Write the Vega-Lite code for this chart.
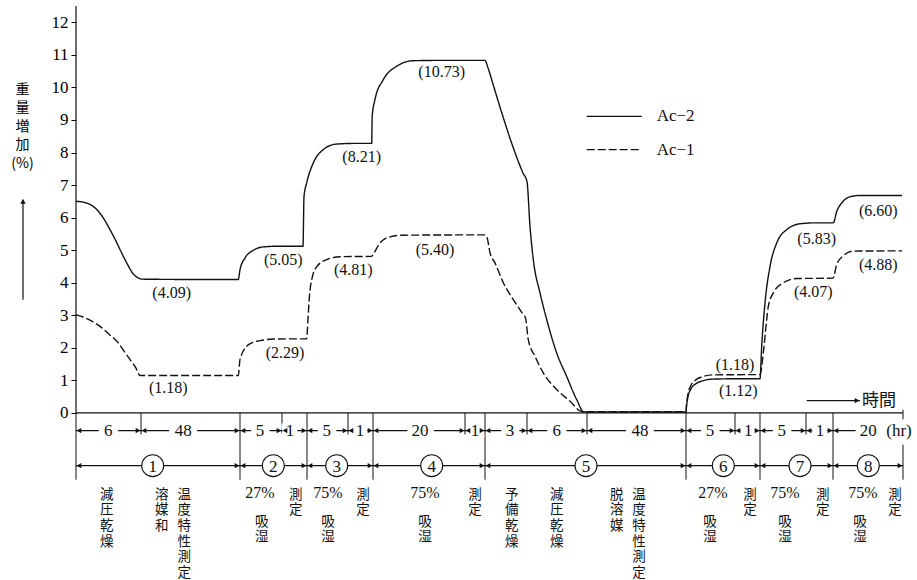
{
  "$schema": "https://vega.github.io/schema/vega-lite/v6.json",
  "width": 827,
  "height": 573,
  "autosize": {"type": "none"},
  "padding": {"left": 76, "top": 6, "right": 14, "bottom": 1},
  "background": "white",
  "config": {"view": {"stroke": null}},
  "datasets": {
    "curves": [
      {"s":"Ac-2","x":0,"y":6.5},{"s":"Ac-2","x":8,"y":6.47},{"s":"Ac-2","x":17,"y":6.35},{"s":"Ac-2","x":26,"y":6.05},{"s":"Ac-2","x":34,"y":5.63},{"s":"Ac-2","x":40,"y":5.28},{"s":"Ac-2","x":44,"y":5.02},{"s":"Ac-2","x":50.7,"y":4.61},{"s":"Ac-2","x":57.3,"y":4.27},{"s":"Ac-2","x":62,"y":4.15},{"s":"Ac-2","x":66,"y":4.11},{"s":"Ac-2","x":120,"y":4.1},{"s":"Ac-2","x":162.3,"y":4.1},
      {"s":"Ac-2","x":164,"y":4.4},{"s":"Ac-2","x":169,"y":4.76},{"s":"Ac-2","x":177,"y":4.99},{"s":"Ac-2","x":187,"y":5.1},{"s":"Ac-2","x":200,"y":5.12},{"s":"Ac-2","x":227,"y":5.12},
      {"s":"Ac-2","x":228,"y":6.65},{"s":"Ac-2","x":230.7,"y":7.07},{"s":"Ac-2","x":237.3,"y":7.68},{"s":"Ac-2","x":247.3,"y":8.09},{"s":"Ac-2","x":260.7,"y":8.26},{"s":"Ac-2","x":280,"y":8.28},{"s":"Ac-2","x":295.7,"y":8.28},
      {"s":"Ac-2","x":296.2,"y":9.11},{"s":"Ac-2","x":299,"y":9.63},{"s":"Ac-2","x":307.3,"y":10.24},{"s":"Ac-2","x":320.7,"y":10.65},{"s":"Ac-2","x":337.3,"y":10.82},{"s":"Ac-2","x":370,"y":10.83},{"s":"Ac-2","x":409,"y":10.83},
      {"s":"Ac-2","x":412,"y":10.6},{"s":"Ac-2","x":417,"y":10.1},{"s":"Ac-2","x":427,"y":9.1},{"s":"Ac-2","x":437,"y":8.17},{"s":"Ac-2","x":447,"y":7.37},{"s":"Ac-2","x":451,"y":7.1},{"s":"Ac-2","x":454,"y":5.73},{"s":"Ac-2","x":457.3,"y":4.71},{"s":"Ac-2","x":464,"y":3.69},{"s":"Ac-2","x":470.7,"y":2.87},{"s":"Ac-2","x":480.7,"y":1.84},{"s":"Ac-2","x":490.7,"y":1.12},{"s":"Ac-2","x":500.7,"y":0.41},{"s":"Ac-2","x":508,"y":0.03},{"s":"Ac-2","x":560,"y":0.03},{"s":"Ac-2","x":610,"y":0.03},
      {"s":"Ac-2","x":610.5,"y":0.2},{"s":"Ac-2","x":612,"y":0.5},{"s":"Ac-2","x":615,"y":0.74},{"s":"Ac-2","x":620,"y":0.9},{"s":"Ac-2","x":627,"y":0.99},{"s":"Ac-2","x":637,"y":1.04},{"s":"Ac-2","x":660,"y":1.05},{"s":"Ac-2","x":684,"y":1.05},
      {"s":"Ac-2","x":685.7,"y":2.05},{"s":"Ac-2","x":689,"y":3.38},{"s":"Ac-2","x":694,"y":4.5},{"s":"Ac-2","x":700.7,"y":5.22},{"s":"Ac-2","x":710.7,"y":5.63},{"s":"Ac-2","x":724,"y":5.81},{"s":"Ac-2","x":740,"y":5.84},{"s":"Ac-2","x":757.3,"y":5.84},
      {"s":"Ac-2","x":760.7,"y":6.19},{"s":"Ac-2","x":765.7,"y":6.45},{"s":"Ac-2","x":774,"y":6.64},{"s":"Ac-2","x":784,"y":6.68},{"s":"Ac-2","x":826,"y":6.68},
      {"s":"Ac-1","x":0,"y":3.02},{"s":"Ac-1","x":12,"y":2.88},{"s":"Ac-1","x":24,"y":2.66},{"s":"Ac-1","x":33,"y":2.42},{"s":"Ac-1","x":42.3,"y":2.15},{"s":"Ac-1","x":48,"y":1.9},{"s":"Ac-1","x":54,"y":1.64},{"s":"Ac-1","x":60,"y":1.38},{"s":"Ac-1","x":64,"y":1.15},{"s":"Ac-1","x":120,"y":1.15},{"s":"Ac-1","x":162.3,"y":1.15},
      {"s":"Ac-1","x":164,"y":1.64},{"s":"Ac-1","x":170.7,"y":2.05},{"s":"Ac-1","x":177,"y":2.17},{"s":"Ac-1","x":184,"y":2.22},{"s":"Ac-1","x":197.3,"y":2.27},{"s":"Ac-1","x":230.7,"y":2.28},
      {"s":"Ac-1","x":232,"y":2.9},{"s":"Ac-1","x":233.5,"y":3.6},{"s":"Ac-1","x":236.5,"y":4.2},{"s":"Ac-1","x":241,"y":4.5},{"s":"Ac-1","x":250.7,"y":4.71},{"s":"Ac-1","x":264,"y":4.8},{"s":"Ac-1","x":295.7,"y":4.81},
      {"s":"Ac-1","x":297.3,"y":4.88},{"s":"Ac-1","x":304,"y":5.22},{"s":"Ac-1","x":314,"y":5.41},{"s":"Ac-1","x":327.3,"y":5.46},{"s":"Ac-1","x":409,"y":5.47},
      {"s":"Ac-1","x":411,"y":5.4},{"s":"Ac-1","x":414,"y":4.92},{"s":"Ac-1","x":419,"y":4.61},{"s":"Ac-1","x":427.3,"y":4.0},{"s":"Ac-1","x":437.3,"y":3.48},{"s":"Ac-1","x":447.3,"y":3.02},{"s":"Ac-1","x":449.5,"y":2.92},{"s":"Ac-1","x":452.3,"y":2.25},{"s":"Ac-1","x":459,"y":1.74},{"s":"Ac-1","x":467.3,"y":1.23},{"s":"Ac-1","x":480.7,"y":0.72},{"s":"Ac-1","x":494,"y":0.36},{"s":"Ac-1","x":506,"y":0.04},{"s":"Ac-1","x":560,"y":0.04},{"s":"Ac-1","x":610,"y":0.04},
      {"s":"Ac-1","x":610.5,"y":0.25},{"s":"Ac-1","x":612,"y":0.58},{"s":"Ac-1","x":615,"y":0.85},{"s":"Ac-1","x":620,"y":1.02},{"s":"Ac-1","x":627,"y":1.12},{"s":"Ac-1","x":637,"y":1.17},{"s":"Ac-1","x":684,"y":1.18},
      {"s":"Ac-1","x":687.3,"y":1.84},{"s":"Ac-1","x":690.7,"y":2.87},{"s":"Ac-1","x":692.3,"y":3.27},{"s":"Ac-1","x":697.3,"y":3.69},{"s":"Ac-1","x":707.3,"y":4.0},{"s":"Ac-1","x":720.7,"y":4.13},{"s":"Ac-1","x":757,"y":4.14},
      {"s":"Ac-1","x":760.7,"y":4.56},{"s":"Ac-1","x":767.3,"y":4.83},{"s":"Ac-1","x":777.3,"y":4.97},{"s":"Ac-1","x":826,"y":4.98}
    ],
    "values": [
      {"x":95.7,"y":3.69,"label":"(4.09)"},
      {"x":92.3,"y":0.77,"label":"(1.18)"},
      {"x":207.3,"y":4.71,"label":"(5.05)"},
      {"x":209,"y":1.84,"label":"(2.29)"},
      {"x":277.3,"y":4.38,"label":"(4.81)"},
      {"x":359,"y":5.02,"label":"(5.40)"},
      {"x":285.7,"y":7.86,"label":"(8.21)"},
      {"x":365.7,"y":10.46,"label":"(10.73)"},
      {"x":659,"y":1.48,"label":"(1.18)"},
      {"x":662.3,"y":0.66,"label":"(1.12)"},
      {"x":737.3,"y":3.71,"label":"(4.07)"},
      {"x":740.7,"y":5.35,"label":"(5.83)"},
      {"x":802.3,"y":6.19,"label":"(6.60)"},
      {"x":802.3,"y":4.56,"label":"(4.88)"}
    ],
    "legendLines": [
      {"s":"Ac-2","x":510.7,"x2":565.7,"y":9.11,"label":"Ac−2"},
      {"s":"Ac-1","x":510.7,"x2":565.7,"y":8.09,"label":"Ac−1"}
    ],
    "longBounds": [
      {"x":0,"y":0,"y2":-2.05},{"x":164,"y":0,"y2":-2.05},{"x":231,"y":0,"y2":-2.05},{"x":297,"y":0,"y2":-2.05},{"x":409,"y":0,"y2":-2.05},{"x":610,"y":0,"y2":-2.05},{"x":684,"y":0,"y2":-2.05},{"x":757,"y":0,"y2":-2.05},{"x":827,"y":0.1,"y2":-2.05}
    ],
    "shortBounds": [
      {"x":65,"y":0,"y2":-0.66},{"x":206,"y":0,"y2":-0.66},{"x":272,"y":0,"y2":-0.66},{"x":389,"y":0,"y2":-0.66},{"x":451,"y":0,"y2":-0.66},{"x":511,"y":0,"y2":-0.66},{"x":659,"y":0,"y2":-0.66},{"x":730,"y":0,"y2":-0.66}
    ],
    "rows": [
      {"x":0,"x2":827,"y":0},
      {"x":0,"x2":827,"y":-0.54},
      {"x":0,"x2":827,"y":-1.62},
      {"x":730.7,"x2":784,"y":0.38},
      {"x":-53,"x2":-53,"y":3.48,"y2":6.55},
      {"x":0,"x2":0,"y":0,"y2":12.5}
    ],
    "hours": [
      {"x":32.3,"y":-0.54,"label":"6"},
      {"x":107.3,"y":-0.54,"label":"48"},
      {"x":184,"y":-0.54,"label":"5"},
      {"x":214,"y":-0.54,"label":"1"},
      {"x":250.7,"y":-0.54,"label":"5"},
      {"x":284,"y":-0.54,"label":"1"},
      {"x":344,"y":-0.54,"label":"20"},
      {"x":399,"y":-0.54,"label":"1"},
      {"x":434,"y":-0.54,"label":"3"},
      {"x":480.7,"y":-0.54,"label":"6"},
      {"x":564,"y":-0.54,"label":"48"},
      {"x":634,"y":-0.54,"label":"5"},
      {"x":672.3,"y":-0.54,"label":"1"},
      {"x":705.7,"y":-0.54,"label":"5"},
      {"x":744,"y":-0.54,"label":"1"},
      {"x":792.3,"y":-0.54,"label":"20"},
      {"x":823,"y":-0.54,"label":"(hr)"}
    ],
    "heads": [
      {"x":0,"y":-0.54,"d":"L"},{"x":65,"y":-0.54,"d":"L"},{"x":164,"y":-0.54,"d":"L"},{"x":206,"y":-0.54,"d":"L"},{"x":231,"y":-0.54,"d":"L"},{"x":272,"y":-0.54,"d":"L"},{"x":297,"y":-0.54,"d":"L"},{"x":389,"y":-0.54,"d":"L"},{"x":409,"y":-0.54,"d":"L"},{"x":451,"y":-0.54,"d":"L"},{"x":511,"y":-0.54,"d":"L"},{"x":610,"y":-0.54,"d":"L"},{"x":659,"y":-0.54,"d":"L"},{"x":684,"y":-0.54,"d":"L"},{"x":730,"y":-0.54,"d":"L"},{"x":757,"y":-0.54,"d":"L"},
      {"x":65,"y":-0.54,"d":"R"},{"x":164,"y":-0.54,"d":"R"},{"x":206,"y":-0.54,"d":"R"},{"x":231,"y":-0.54,"d":"R"},{"x":272,"y":-0.54,"d":"R"},{"x":297,"y":-0.54,"d":"R"},{"x":389,"y":-0.54,"d":"R"},{"x":409,"y":-0.54,"d":"R"},{"x":451,"y":-0.54,"d":"R"},{"x":511,"y":-0.54,"d":"R"},{"x":610,"y":-0.54,"d":"R"},{"x":659,"y":-0.54,"d":"R"},{"x":684,"y":-0.54,"d":"R"},{"x":730,"y":-0.54,"d":"R"},{"x":757,"y":-0.54,"d":"R"},
      {"x":0,"y":-1.62,"d":"L"},{"x":164,"y":-1.62,"d":"L"},{"x":231,"y":-1.62,"d":"L"},{"x":297,"y":-1.62,"d":"L"},{"x":409,"y":-1.62,"d":"L"},{"x":610,"y":-1.62,"d":"L"},{"x":684,"y":-1.62,"d":"L"},{"x":757,"y":-1.62,"d":"L"},
      {"x":164,"y":-1.62,"d":"R"},{"x":231,"y":-1.62,"d":"R"},{"x":297,"y":-1.62,"d":"R"},{"x":409,"y":-1.62,"d":"R"},{"x":610,"y":-1.62,"d":"R"},{"x":684,"y":-1.62,"d":"R"},{"x":757,"y":-1.62,"d":"R"},{"x":827,"y":-1.62,"d":"R"},
      {"x":784,"y":0.38,"d":"R"},
      {"x":-53,"y":6.5,"d":"U"}
    ],
    "stages": [
      {"x":76.7,"y":-1.62,"label":"1"},
      {"x":197.3,"y":-1.62,"label":"2"},
      {"x":260.7,"y":-1.62,"label":"3"},
      {"x":355.7,"y":-1.62,"label":"4"},
      {"x":510,"y":-1.62,"label":"5"},
      {"x":647.3,"y":-1.62,"label":"6"},
      {"x":724,"y":-1.62,"label":"7"},
      {"x":792.3,"y":-1.62,"label":"8"}
    ],
    "vlabels": [
      {"x":30.7,"y":-2.3,"label":"減\n圧\n乾\n燥"},
      {"x":85.7,"y":-2.3,"label":"溶\n媒\n和"},
      {"x":108.3,"y":-2.3,"label":"温\n度\n特\n性\n測\n定"},
      {"x":185.7,"y":-3.12,"label":"吸\n湿"},
      {"x":219.7,"y":-2.3,"label":"測\n定"},
      {"x":252,"y":-3.12,"label":"吸\n湿"},
      {"x":287,"y":-2.3,"label":"測\n定"},
      {"x":349,"y":-3.12,"label":"吸\n湿"},
      {"x":399,"y":-2.3,"label":"測\n定"},
      {"x":435.7,"y":-2.3,"label":"予\n備\n乾\n燥"},
      {"x":480.7,"y":-2.3,"label":"減\n圧\n乾\n燥"},
      {"x":540.7,"y":-2.3,"label":"脱\n溶\n媒"},
      {"x":563,"y":-2.3,"label":"温\n度\n特\n性\n測\n定"},
      {"x":634,"y":-3.12,"label":"吸\n湿"},
      {"x":674,"y":-2.3,"label":"測\n定"},
      {"x":709,"y":-3.12,"label":"吸\n湿"},
      {"x":746.7,"y":-2.3,"label":"測\n定"},
      {"x":784,"y":-3.12,"label":"吸\n湿"},
      {"x":819,"y":-2.3,"label":"測\n定"},
      {"x":786,"y":0.38,"label":"時間"}
    ],
    "pct": [
      {"x":184,"y":-2.46,"label":"27%"},
      {"x":252,"y":-2.46,"label":"75%"},
      {"x":349,"y":-2.46,"label":"75%"},
      {"x":637,"y":-2.46,"label":"27%"},
      {"x":709,"y":-2.46,"label":"75%"},
      {"x":787,"y":-2.46,"label":"75%"}
    ]
  },
  "encoding": {
    "x": {"field": "x", "type": "quantitative", "scale": {"domain": [0, 827], "nice": false, "zero": false}, "axis": null},
    "y": {"field": "y", "type": "quantitative", "scale": {"domain": [-5.1, 12.5], "nice": false, "zero": false},
      "axis": {"values": [0,1,2,3,4,5,6,7,8,9,10,11,12], "domain": false, "grid": false, "ticks": true, "tickSize": 5, "tickColor": "#000", "tickWidth": 1,
        "labelFont": "Liberation Serif", "labelFontSize": 17, "labelColor": "#000", "labelPadding": 3,
        "title": ["重","量","増","加","(%)"], "titleAngle": 0, "titleFont": "Noto Sans CJK JP", "titleFontSize": 14, "titleFontWeight": "normal", "titleColor": "#000",
        "titleLineHeight": 18.5, "titleX": -54, "titleY": 76, "titleAlign": "center", "titleBaseline": "top"}}
  },
  "layer": [
    {"data": {"name": "rows"}, "mark": {"type": "rule", "color": "#111", "strokeWidth": 1.2}, "encoding": {"x2": {"field": "x2"}, "y2": {"field": "y2"}}},
    {"data": {"name": "longBounds"}, "mark": {"type": "rule", "color": "#111", "strokeWidth": 1}, "encoding": {"y2": {"field": "y2"}}},
    {"data": {"name": "shortBounds"}, "mark": {"type": "rule", "color": "#111", "strokeWidth": 1}, "encoding": {"y2": {"field": "y2"}}},
    {"data": {"name": "hours"}, "mark": {"type": "text", "font": "Liberation Serif", "fontSize": 17, "fill": "white", "stroke": "white", "strokeWidth": 12, "strokeJoin": "round", "baseline": "middle"}, "encoding": {"text": {"field": "label"}}},
    {"data": {"name": "hours"}, "mark": {"type": "text", "font": "Liberation Serif", "fontSize": 17, "color": "#111", "baseline": "middle"}, "encoding": {"text": {"field": "label"}}},
    {"data": {"name": "heads"}, "transform": [{"filter": "datum.d === 'L'"}], "mark": {"type": "point", "shape": "triangle-left", "filled": true, "color": "#111", "size": 28, "xOffset": 3, "opacity": 1}},
    {"data": {"name": "heads"}, "transform": [{"filter": "datum.d === 'R'"}], "mark": {"type": "point", "shape": "triangle-right", "filled": true, "color": "#111", "size": 28, "xOffset": -3, "opacity": 1}},
    {"data": {"name": "heads"}, "transform": [{"filter": "datum.d === 'U'"}], "mark": {"type": "point", "shape": "triangle-up", "filled": true, "color": "#111", "size": 30, "opacity": 1}},
    {"data": {"name": "stages"}, "mark": {"type": "point", "shape": "circle", "filled": true, "fill": "white", "stroke": "#111", "strokeWidth": 1.1, "size": 480, "opacity": 1}},
    {"data": {"name": "stages"}, "mark": {"type": "text", "font": "Liberation Serif", "fontSize": 17, "color": "#111", "baseline": "middle", "dy": 1}, "encoding": {"text": {"field": "label"}}},
    {"data": {"name": "vlabels"}, "transform": [{"filter": "datum.label !== '時間'"}], "mark": {"type": "text", "font": "Noto Sans CJK JP", "fontSize": 13.5, "lineHeight": 15.6, "lineBreak": "\n", "baseline": "top", "color": "#111"}, "encoding": {"text": {"field": "label"}}},
    {"data": {"name": "vlabels"}, "transform": [{"filter": "datum.label === '時間'"}], "mark": {"type": "text", "font": "Noto Sans CJK JP", "fontSize": 17, "baseline": "middle", "align": "left", "color": "#111"}, "encoding": {"text": {"field": "label"}}},
    {"data": {"name": "pct"}, "mark": {"type": "text", "font": "Liberation Serif", "fontSize": 16, "baseline": "middle", "color": "#111"}, "encoding": {"text": {"field": "label"}}},
    {"data": {"name": "curves"}, "mark": {"type": "line", "interpolate": "monotone", "color": "#111", "strokeWidth": 1.4},
      "encoding": {"detail": {"field": "s"}, "strokeDash": {"field": "s", "type": "nominal", "scale": {"domain": ["Ac-2", "Ac-1"], "range": [[1, 0], [8, 3]]}, "legend": null}}},
    {"data": {"name": "legendLines"}, "mark": {"type": "rule", "color": "#111", "strokeWidth": 1.3},
      "encoding": {"x2": {"field": "x2"}, "strokeDash": {"field": "s", "type": "nominal", "scale": {"domain": ["Ac-2", "Ac-1"], "range": [[1, 0], [8, 3]]}, "legend": null}}},
    {"data": {"name": "legendLines"}, "mark": {"type": "text", "font": "Liberation Serif", "fontSize": 17, "align": "left", "baseline": "middle", "dx": 15, "color": "#111"},
      "encoding": {"x": {"field": "x2", "type": "quantitative"}, "text": {"field": "label"}}},
    {"data": {"name": "values"}, "mark": {"type": "text", "font": "Liberation Serif", "fontSize": 16, "baseline": "middle", "color": "#111"}, "encoding": {"text": {"field": "label"}}}
  ]
}
